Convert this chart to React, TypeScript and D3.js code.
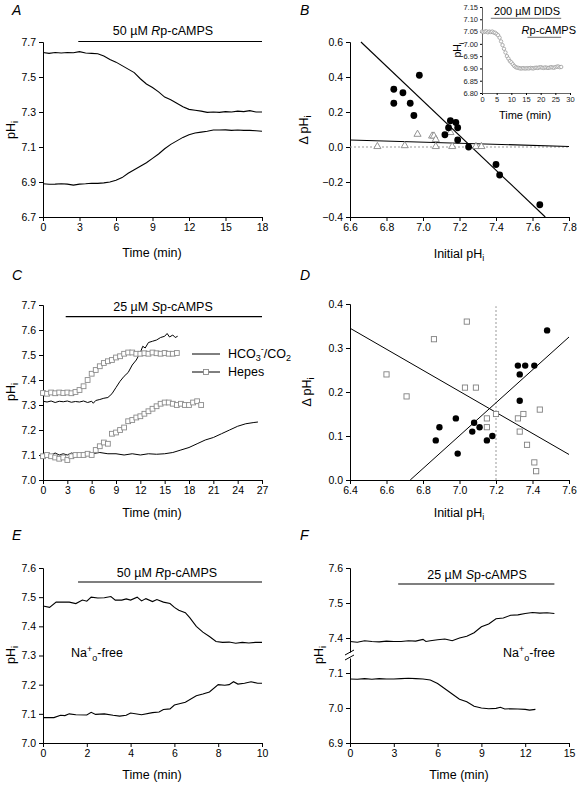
import React, { useEffect, useRef } from "react";
import * as d3 from "d3";

const FONT = "'Liberation Sans', Arial, Helvetica, sans-serif";

// ---------- Panel A ----------
const aTicksX = [0, 3, 6, 9, 12, 15, 18];
const aTicksY = [6.7, 6.9, 7.1, 7.3, 7.5, 7.7];
const aTop: [number, number][] = [[0,7.64],[0.5,7.635],[1,7.64],[1.5,7.637],[2,7.64],[2.5,7.639],[3,7.645],[3.5,7.637],[4,7.635],[4.5,7.633],[5,7.62],[5.5,7.60],[6,7.585],[6.5,7.565],[7,7.545],[7.5,7.525],[8,7.49],[8.5,7.46],[9,7.44],[9.5,7.415],[10,7.385],[10.5,7.37],[11,7.35],[11.5,7.33],[12,7.315],[12.5,7.31],[13,7.305],[13.5,7.298],[14,7.30],[14.5,7.298],[15,7.302],[15.5,7.30],[16,7.305],[16.5,7.302],[17,7.308],[17.5,7.30],[18,7.30]];
const aBottom: [number, number][] = [[0,6.89],[0.5,6.887],[1,6.888],[1.5,6.89],[2,6.888],[2.5,6.882],[3,6.888],[3.5,6.89],[4,6.893],[4.5,6.892],[5,6.895],[5.5,6.90],[6,6.91],[6.5,6.925],[7,6.95],[7.5,6.97],[8,6.99],[8.5,7.01],[9,7.035],[9.5,7.06],[10,7.09],[10.5,7.115],[11,7.135],[11.5,7.155],[12,7.17],[12.5,7.18],[13,7.185],[13.5,7.19],[14,7.197],[14.5,7.197],[15,7.198],[15.5,7.195],[16,7.197],[16.5,7.195],[17,7.195],[17.5,7.193],[18,7.19]];

// ---------- Panel B ----------
const bTicksX = [6.6, 6.8, 7.0, 7.2, 7.4, 7.6, 7.8];
const bTicksY = [-0.4, -0.2, 0.0, 0.2, 0.4, 0.6];
const bFilled: [number, number][] = [[6.84,0.33],[6.84,0.25],[6.89,0.31],[6.93,0.25],[6.95,0.18],[6.98,0.41],[7.12,0.07],[7.14,0.11],[7.15,0.15],[7.18,0.14],[7.19,0.11],[7.19,0.04],[7.25,0.0],[7.40,-0.10],[7.42,-0.16],[7.64,-0.33]];
const bTriangles: [number, number][] = [[6.75,0.0],[6.90,0.005],[6.97,0.07],[7.05,0.06],[7.06,0.06],[7.07,0.04],[7.07,0.0],[7.15,0.08],[7.16,0.0],[7.29,0.0],[7.32,0.0]];
const bFitSteep: [number, number][] = [[6.66,0.6],[7.67,-0.4]];
const bFitFlat: [number, number][] = [[6.6,0.04],[7.8,0.003]];
// inset
const insTicksX = [0, 5, 10, 15, 20, 25, 30];
const insTicksY = [6.80, 6.85, 6.90, 6.95, 7.00, 7.05, 7.10, 7.15];
const insTrace: [number, number][] = [[0,7.05],[0.5,7.048],[1,7.05],[1.5,7.051],[2,7.047],[2.5,7.05],[3,7.048],[3.5,7.05],[4,7.046],[4.5,7.045],[5,7.04],[5.5,7.035],[6,7.025],[6.5,7.01],[7,6.995],[7.5,6.98],[8,6.965],[8.5,6.95],[9,6.94],[9.5,6.93],[10,6.925],[10.5,6.917],[11,6.91],[11.5,6.905],[12,6.903],[12.5,6.902],[13,6.90],[13.5,6.90],[14,6.901],[14.5,6.90],[15,6.90],[15.5,6.901],[16,6.90],[16.5,6.902],[17,6.901],[17.5,6.90],[18,6.902],[18.5,6.903],[19,6.902],[19.5,6.904],[20,6.905],[20.5,6.903],[21,6.902],[21.5,6.904],[22,6.903],[22.5,6.902],[23,6.903],[23.5,6.905],[24,6.904],[24.5,6.903],[25,6.905],[25.5,6.907],[26,6.908],[26.5,6.905],[27,6.906]];

// ---------- Panel C ----------
const cTicksX = [0, 3, 6, 9, 12, 15, 18, 21, 24, 27];
const cTicksY = [7.0, 7.1, 7.2, 7.3, 7.4, 7.5, 7.6, 7.7];
const cHco3Top: [number, number][] = [[0,7.315],[0.5,7.312],[1,7.316],[1.5,7.31],[2,7.315],[2.5,7.313],[3,7.316],[3.5,7.311],[4,7.314],[4.5,7.312],[5,7.316],[5.5,7.31],[6,7.315],[6.2,7.307],[6.5,7.318],[7,7.322],[7.5,7.327],[8,7.33],[8.5,7.345],[9,7.37],[9.5,7.395],[10,7.415],[10.5,7.43],[11,7.46],[11.5,7.48],[12,7.51],[12.3,7.535],[12.6,7.528],[13,7.55],[13.5,7.555],[14,7.56],[14.5,7.57],[15,7.575],[15.3,7.586],[15.6,7.572],[16,7.58],[16.3,7.57],[16.6,7.575]];
const cHco3Bottom: [number, number][] = [[0,7.10],[0.5,7.105],[1,7.10],[1.5,7.108],[2,7.10],[2.5,7.105],[3,7.10],[3.5,7.108],[4,7.102],[5,7.105],[6,7.105],[7,7.11],[8,7.105],[9,7.105],[10,7.10],[11,7.105],[12,7.10],[13,7.105],[14,7.103],[15,7.105],[16,7.11],[17,7.12],[18,7.13],[19,7.145],[20,7.16],[21,7.17],[22,7.185],[23,7.20],[24,7.215],[25,7.225],[26,7.23],[26.5,7.232]];
const cHepesTop: [number, number][] = [[0,7.348],[0.5,7.345],[1,7.35],[1.5,7.347],[2,7.35],[2.5,7.348],[3,7.35],[3.5,7.347],[4,7.352],[4.5,7.36],[5,7.375],[5.5,7.40],[6,7.425],[6.5,7.44],[7,7.455],[7.5,7.468],[8,7.475],[8.5,7.48],[9,7.49],[9.5,7.495],[10,7.505],[10.5,7.51],[11,7.51],[11.5,7.505],[12,7.505],[12.5,7.507],[13,7.505],[13.5,7.51],[14,7.507],[14.5,7.505],[15,7.508],[15.5,7.505],[16,7.505],[16.5,7.508]];
const cHepesBottom: [number, number][] = [[0,7.095],[0.5,7.10],[1,7.095],[1.5,7.09],[2,7.085],[2.5,7.09],[3,7.08],[3.5,7.095],[4,7.10],[4.5,7.10],[5,7.10],[5.5,7.105],[6,7.10],[6.5,7.12],[7,7.135],[7.5,7.15],[8,7.145],[8.5,7.185],[9,7.19],[9.5,7.20],[10,7.21],[10.5,7.235],[11,7.24],[11.5,7.25],[12,7.255],[12.5,7.265],[13,7.275],[13.5,7.285],[14,7.295],[14.5,7.305],[15,7.31],[15.5,7.31],[16,7.305],[16.5,7.30],[17,7.305],[17.5,7.30],[18,7.30],[18.5,7.31],[19,7.315],[19.5,7.30]];

// ---------- Panel D ----------
const dTicksX = [6.4, 6.6, 6.8, 7.0, 7.2, 7.4, 7.6];
const dTicksY = [0.0, 0.1, 0.2, 0.3, 0.4];
const dFilled: [number, number][] = [[6.87,0.09],[6.89,0.12],[6.98,0.14],[6.99,0.06],[7.07,0.11],[7.08,0.13],[7.11,0.12],[7.15,0.09],[7.18,0.10],[7.32,0.26],[7.33,0.24],[7.33,0.18],[7.36,0.26],[7.41,0.26],[7.48,0.34]];
const dSquares: [number, number][] = [[6.60,0.24],[6.71,0.19],[6.86,0.32],[7.03,0.21],[7.04,0.36],[7.09,0.21],[7.15,0.14],[7.15,0.12],[7.20,0.15],[7.32,0.14],[7.33,0.11],[7.35,0.15],[7.37,0.08],[7.41,0.04],[7.42,0.02],[7.44,0.16]];
const dFitDown: [number, number][] = [[6.4,0.345],[7.6,0.058]];
const dFitUp: [number, number][] = [[6.73,0.0],[7.6,0.325]];

// ---------- Panel E ----------
const eTicksX = [0, 2, 4, 6, 8, 10];
const eTicksY = [7.0, 7.1, 7.2, 7.3, 7.4, 7.5, 7.6];
const eTop: [number, number][] = [[0,7.47],[0.3,7.465],[0.6,7.483],[0.9,7.483],[1.2,7.483],[1.5,7.478],[1.8,7.49],[2.0,7.486],[2.2,7.50],[2.5,7.497],[2.8,7.498],[3.1,7.502],[3.3,7.49],[3.6,7.49],[3.8,7.494],[4.0,7.49],[4.3,7.50],[4.5,7.487],[4.7,7.495],[5.0,7.485],[5.2,7.492],[5.5,7.483],[5.8,7.478],[6.0,7.465],[6.2,7.455],[6.5,7.447],[6.7,7.43],[7.0,7.40],[7.3,7.38],[7.6,7.365],[7.9,7.348],[8.2,7.345],[8.5,7.346],[8.8,7.342],[9.1,7.345],[9.4,7.343],[9.7,7.345],[10,7.345]];
const eBottom: [number, number][] = [[0,7.087],[0.5,7.087],[0.8,7.095],[1.0,7.094],[1.2,7.10],[1.5,7.097],[2.0,7.096],[2.2,7.105],[2.4,7.098],[2.8,7.10],[3.2,7.095],[3.5,7.092],[3.8,7.095],[4.0,7.103],[4.5,7.097],[5.0,7.104],[5.3,7.106],[5.5,7.115],[5.8,7.117],[6.0,7.13],[6.5,7.14],[7.0,7.162],[7.3,7.168],[7.6,7.175],[8.0,7.20],[8.3,7.198],[8.5,7.20],[8.7,7.21],[8.9,7.202],[9.2,7.205],[9.5,7.21],[9.8,7.205],[10,7.205]];

// ---------- Panel F ----------
const fTicksX = [0, 3, 6, 9, 12, 15];
const fTicksY = [6.9, 7.0, 7.1, 7.4, 7.5, 7.6];
const fTop: [number, number][] = [[0,7.39],[0.5,7.388],[1,7.392],[1.5,7.39],[2,7.389],[2.5,7.391],[3,7.39],[3.5,7.39],[4,7.392],[4.5,7.391],[5,7.396],[5.2,7.39],[5.5,7.392],[6,7.395],[6.5,7.397],[7,7.392],[7.5,7.40],[8,7.405],[8.5,7.415],[9,7.432],[9.5,7.44],[10,7.455],[10.5,7.457],[11,7.465],[11.5,7.466],[12,7.47],[12.5,7.473],[13,7.471],[13.5,7.472],[14,7.47]];
const fBottom: [number, number][] = [[0,7.083],[0.5,7.082],[1,7.084],[1.5,7.082],[2,7.084],[2.5,7.083],[3,7.083],[3.5,7.084],[4,7.085],[4.5,7.084],[5,7.083],[5.5,7.08],[6,7.07],[6.5,7.055],[7,7.04],[7.5,7.025],[8,7.018],[8.5,7.005],[9,7.0],[9.5,6.998],[10,6.999],[10.3,7.002],[10.6,6.997],[11,6.998],[11.5,6.997],[12,6.996],[12.3,6.994],[12.7,6.996]];

type Sel = d3.Selection<SVGGElement, unknown, null, undefined>;

function styleAxis(g: Sel, fs = 10.5) {
  g.attr("font-family", FONT).attr("font-size", fs);
  g.selectAll("text").attr("fill", "#000");
  g.select(".domain").attr("stroke", "#000");
  g.selectAll(".tick line").attr("stroke", "#000");
}

function drawAxes(root: Sel, x: any, y: any, tx: number[], ty: number[], fx: string, fy: string, fs = 10.5, tick = 4, pad = 3) {
  const [x0] = x.range();
  const [y0] = y.range();
  const gx = root.append("g").attr("transform", `translate(0,${y0})`);
  gx.call(d3.axisBottom(x).tickValues(tx).tickFormat(d3.format(fx)).tickSizeOuter(0).tickSize(tick).tickPadding(pad));
  styleAxis(gx, fs);
  const gy = root.append("g").attr("transform", `translate(${x0},0)`);
  gy.call(d3.axisLeft(y).tickValues(ty).tickFormat(d3.format(fy)).tickSizeOuter(0).tickSize(tick).tickPadding(pad));
  styleAxis(gy, fs);
  return { gx, gy };
}

function text(root: Sel, x: number, y: number, fs = 12.5, anchor = "middle", rotate = false) {
  const t = root.append("text").attr("font-family", FONT).attr("font-size", fs).attr("fill", "#000").attr("text-anchor", anchor);
  if (rotate) t.attr("transform", `translate(${x},${y}) rotate(-90)`);
  else t.attr("x", x).attr("y", y);
  return t;
}

function phLabel(root: Sel, x: number, y: number, prefix = "", rotate = true) {
  const t = text(root, x, y, 12.5, "middle", rotate);
  t.append("tspan").text(prefix + "pH");
  t.append("tspan").attr("font-size", 9).attr("dy", 3).text("i");
  return t;
}

function letter(root: Sel, x: number, y: number, s: string) {
  text(root, x, y, 14, "start").attr("font-style", "italic").text(s);
}

function drugLabel(root: Sel, x: number, y: number, pre: string, ital: string, post: string, fs = 12.5) {
  const t = text(root, x, y, fs, "middle");
  t.append("tspan").text(pre);
  t.append("tspan").attr("font-style", "italic").text(ital);
  t.append("tspan").text(post);
  return t;
}

function hbar(root: Sel, x1: number, x2: number, y: number, color = "#000", w = 1.2) {
  root.append("line").attr("x1", x1).attr("x2", x2).attr("y1", y).attr("y2", y).attr("stroke", color).attr("stroke-width", w);
}

function trace(root: Sel, data: [number, number][], x: any, y: any, w = 1.1) {
  const line = d3.line<[number, number]>().x((d) => x(d[0])).y((d) => y(d[1]));
  root.append("path").attr("d", line(data)).attr("fill", "none").attr("stroke", "#000").attr("stroke-width", w);
}

function naFree(root: Sel, x: number, y: number) {
  const t = text(root, x, y, 12.5, "start");
  t.append("tspan").text("Na");
  t.append("tspan").attr("font-size", 9).attr("dy", -5).text("+");
  t.append("tspan").attr("font-size", 9).attr("dy", 9).text("o");
  t.append("tspan").attr("dy", -4).text("-free");
}

export default function App() {
  const ref = useRef<SVGSVGElement>(null);
  useEffect(() => {
    const svg = d3.select(ref.current as SVGSVGElement);
    svg.selectAll("*").remove();
    const root = svg.append("g") as unknown as Sel;

    // ===== A =====
    {
      const x = d3.scaleLinear().domain([0, 18]).range([43, 262]);
      const y = d3.scaleLinear().domain([6.7, 7.7]).range([217, 42]);
      drawAxes(root, x, y, aTicksX, aTicksY, "d", ".1f");
      trace(root, aTop, x, y);
      trace(root, aBottom, x, y);
      hbar(root, x(2.9), x(18), 41.5);
      drugLabel(root, 163, 35, "50 \u00B5M ", "R", "p-cAMPS");
      text(root, 152, 257, 12.5).text("Time (min)");
      phLabel(root, 15, 130);
      letter(root, 12, 15, "A");
    }

    // ===== B =====
    {
      const x = d3.scaleLinear().domain([6.6, 7.8]).range([350, 569]);
      const y = d3.scaleLinear().domain([-0.4, 0.6]).range([217, 42]);
      drawAxes(root, x, y, bTicksX, bTicksY, ".1f", ".1f");
      root.append("line").attr("x1", x(6.6)).attr("x2", x(7.8)).attr("y1", y(0)).attr("y2", y(0))
        .attr("stroke", "#999").attr("stroke-dasharray", "2,2").attr("stroke-width", 1);
      trace(root, bFitSteep, x, y, 1.1);
      trace(root, bFitFlat, x, y, 1.1);
      const tri = d3.symbol().type(d3.symbolTriangle).size(22);
      root.append("g").selectAll("path").data(bTriangles).join("path")
        .attr("d", tri as any).attr("transform", (d) => `translate(${x(d[0])},${y(d[1]) - 0.5})`)
        .attr("fill", "#fff").attr("stroke", "#888").attr("stroke-width", 0.9);
      root.append("g").selectAll("circle").data(bFilled).join("circle")
        .attr("cx", (d) => x(d[0])).attr("cy", (d) => y(d[1])).attr("r", 3.4).attr("fill", "#000");
      text(root, 459, 258, 12.5).call((t) => {
        t.append("tspan").text("Initial pH");
        t.append("tspan").attr("font-size", 9).attr("dy", 3).text("i");
      });
      phLabel(root, 308, 130, "\u0394 ");
      letter(root, 300, 15, "B");

      // inset
      const ix = d3.scaleLinear().domain([0, 30]).range([482, 570]);
      const iy = d3.scaleLinear().domain([6.8, 7.15]).range([93, 7]);
      const { gx, gy } = drawAxes(root, ix, iy, insTicksX, insTicksY, "d", ".2f", 7.5, 2, 2);
      gx.select(".domain").attr("stroke", "#666");
      gy.select(".domain").attr("stroke", "#666");
      gx.selectAll("text").attr("fill", "#222");
      gy.selectAll("text").attr("fill", "#222");
      root.append("g").selectAll("circle").data(insTrace).join("circle")
        .attr("cx", (d) => ix(d[0])).attr("cy", (d) => iy(d[1])).attr("r", 1.7)
        .attr("fill", "#fff").attr("stroke", "#999").attr("stroke-width", 0.8);
      hbar(root, ix(3), ix(27), 18.3, "#888", 1.2);
      hbar(root, ix(15.5), ix(27), 37.3, "#888", 1.2);
      text(root, 527, 15, 11).text("200 \u00B5M DIDS");
      text(root, 576, 34, 11, "end").call((t) => {
        t.append("tspan").attr("font-style", "italic").text("R");
        t.append("tspan").text("p-cAMPS");
      });
      text(root, 525, 119, 11).text("Time (min)");
      const pl = text(root, 461, 50, 10.5, "middle", true);
      pl.append("tspan").text("pH");
      pl.append("tspan").attr("font-size", 8).attr("dy", 3).text("i");
    }

    // ===== C =====
    {
      const x = d3.scaleLinear().domain([0, 27]).range([43, 262]);
      const y = d3.scaleLinear().domain([7.0, 7.7]).range([480, 305]);
      drawAxes(root, x, y, cTicksX, cTicksY, "d", ".1f");
      trace(root, cHco3Top, x, y, 1);
      trace(root, cHco3Bottom, x, y, 1);
      const sq = (data: [number, number][]) =>
        root.append("g").selectAll("rect").data(data).join("rect")
          .attr("x", (d) => x(d[0]) - 2.4).attr("y", (d) => y(d[1]) - 2.4)
          .attr("width", 4.8).attr("height", 4.8)
          .attr("fill", "#fff").attr("stroke", "#8a8a8a").attr("stroke-width", 0.9);
      sq(cHepesTop);
      sq(cHepesBottom);
      hbar(root, x(2.8), x(27), 316.7);
      drugLabel(root, 163, 311, "25 \u00B5M ", "S", "p-cAMPS");
      text(root, 152, 517, 12.5).text("Time (min)");
      phLabel(root, 15, 392);
      letter(root, 12, 280, "C");
      // legend
      hbar(root, 192, 220, 354, "#000", 1);
      const lt = text(root, 228, 358, 12.5, "start");
      lt.append("tspan").text("HCO");
      lt.append("tspan").attr("font-size", 9).attr("dy", 3).text("3");
      lt.append("tspan").attr("font-size", 9).attr("dy", -9).text("-");
      lt.append("tspan").attr("dy", 6).text("/CO");
      lt.append("tspan").attr("font-size", 9).attr("dy", 3).text("2");
      hbar(root, 192, 220, 372, "#000", 1);
      root.append("rect").attr("x", 203.5).attr("y", 369.5).attr("width", 5).attr("height", 5)
        .attr("fill", "#fff").attr("stroke", "#8a8a8a").attr("stroke-width", 0.9);
      text(root, 228, 376, 12.5, "start").text("Hepes");
    }

    // ===== D =====
    {
      const x = d3.scaleLinear().domain([6.4, 7.6]).range([350, 569]);
      const y = d3.scaleLinear().domain([0, 0.4]).range([480, 304]);
      drawAxes(root, x, y, dTicksX, dTicksY, ".1f", ".1f");
      root.append("line").attr("x1", x(7.2)).attr("x2", x(7.2)).attr("y1", y(0)).attr("y2", y(0.395))
        .attr("stroke", "#999").attr("stroke-dasharray", "2,2").attr("stroke-width", 1);
      trace(root, dFitDown, x, y, 1);
      trace(root, dFitUp, x, y, 1);
      root.append("g").selectAll("rect").data(dSquares).join("rect")
        .attr("x", (d) => x(d[0]) - 2.6).attr("y", (d) => y(d[1]) - 2.6)
        .attr("width", 5.2).attr("height", 5.2)
        .attr("fill", "#fff").attr("stroke", "#808080").attr("stroke-width", 0.9);
      root.append("g").selectAll("circle").data(dFilled).join("circle")
        .attr("cx", (d) => x(d[0])).attr("cy", (d) => y(d[1])).attr("r", 3.2).attr("fill", "#000");
      text(root, 459, 517, 12.5).call((t) => {
        t.append("tspan").text("Initial pH");
        t.append("tspan").attr("font-size", 9).attr("dy", 3).text("i");
      });
      phLabel(root, 311, 392, "\u0394 ");
      letter(root, 300, 280, "D");
    }

    // ===== E =====
    {
      const x = d3.scaleLinear().domain([0, 10]).range([43, 262]);
      const y = d3.scaleLinear().domain([7.0, 7.6]).range([743, 568]);
      drawAxes(root, x, y, eTicksX, eTicksY, "d", ".1f");
      trace(root, eTop, x, y);
      trace(root, eBottom, x, y);
      hbar(root, x(1.6), x(10), 582);
      drugLabel(root, 167, 577, "50 \u00B5M ", "R", "p-cAMPS");
      text(root, 152, 779, 12.5).text("Time (min)");
      phLabel(root, 15, 655);
      naFree(root, 71, 657);
      letter(root, 12, 540, "E");
    }

    // ===== F =====
    {
      const x = d3.scaleLinear().domain([0, 15]).range([350, 569]);
      const s = d3.scaleLinear().domain([6.9, 7.4]).range([743, 568]);
      // broken axis: values above the break are shifted down by 0.2
      const y: any = (v: number) => (v >= 7.25 ? s(v - 0.2) : s(v));
      const gx = root.append("g").attr("transform", `translate(0,743)`);
      gx.call(d3.axisBottom(x).tickValues(fTicksX).tickFormat(d3.format("d")).tickSizeOuter(0).tickSize(4));
      styleAxis(gx);
      const gy = root.append("g").attr("transform", `translate(350,0)`);
      gy.call(d3.axisLeft(s).tickValues(fTicksY.map((v) => (v >= 7.25 ? v - 0.2 : v)))
        .tickFormat((d: any) => (d >= 7.15 ? (d + 0.2) : d).toFixed(1)).tickSizeOuter(0).tickSize(4));
      styleAxis(gy);
      // break marks
      const yb = s(7.15);
      root.append("rect").attr("x", 347).attr("y", yb - 3).attr("width", 6).attr("height", 6).attr("fill", "#fff");
      root.append("line").attr("x1", 345).attr("x2", 354).attr("y1", yb - 0.5).attr("y2", yb - 5.5).attr("stroke", "#000");
      root.append("line").attr("x1", 345).attr("x2", 354).attr("y1", yb + 4.5).attr("y2", yb - 0.5).attr("stroke", "#000");
      trace(root, fTop, x, y);
      trace(root, fBottom, x, y);
      hbar(root, x(3.3), x(14), 584);
      drugLabel(root, 477, 579, "25 \u00B5M ", "S", "p-cAMPS");
      text(root, 459, 779, 12.5).text("Time (min)");
      phLabel(root, 323, 655);
      naFree(root, 503, 657);
      letter(root, 300, 540, "F");
    }
  }, []);
  return (
    <svg ref={ref} width={579} height={788} style={{ position: "absolute", left: 0, top: 0, background: "#fff" }} />
  );
}
